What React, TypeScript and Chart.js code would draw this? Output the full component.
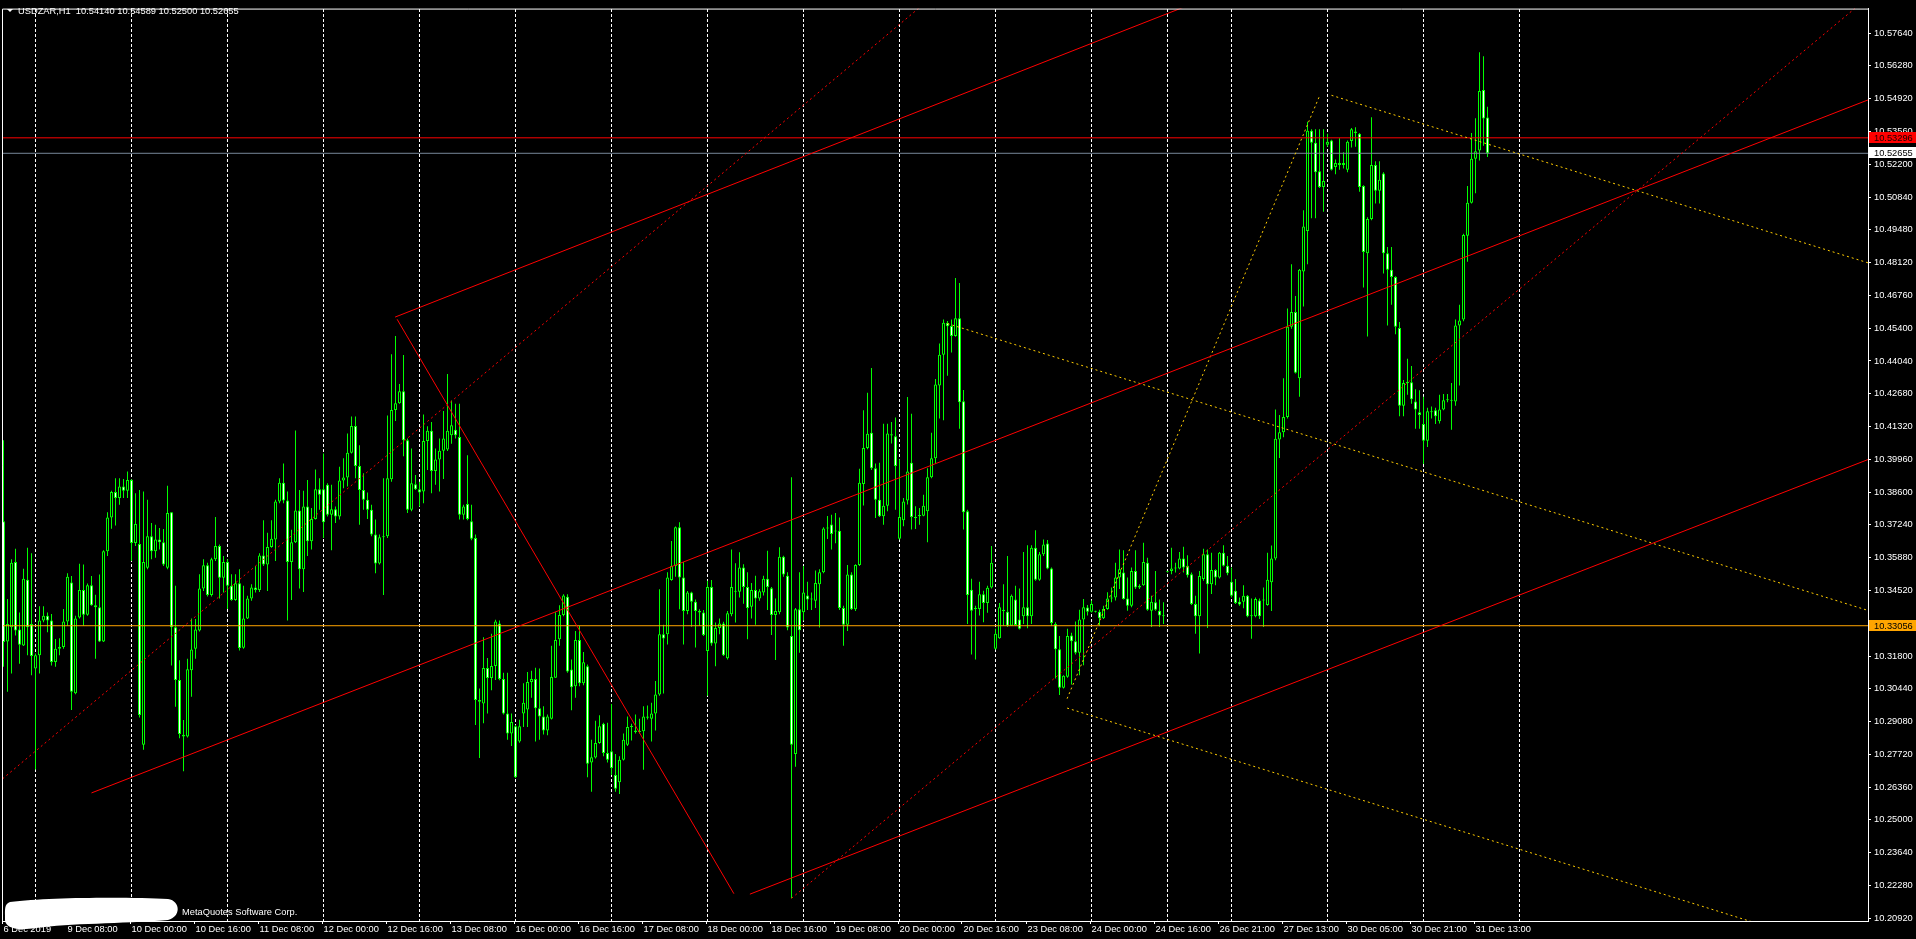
import React, { useEffect, useRef } from "react";
import { Chart, registerables } from "chart.js";

Chart.register(...registerables);

const W = 1916;
const H = 939;
const FONT = "'Liberation Sans', Arial, sans-serif";
const FS = 9.3;

const symbolTitle = "USDZAR,H1  10.54140 10.54589 10.52500 10.52655";
const brokerText = "MetaQuotes Software Corp.";

const opens = [
10.3739,10.3240,10.3299,10.3570,10.3290,10.3224,10.3496,10.3313,10.3128,10.3183,
10.3327,10.3347,10.3327,10.3155,10.3210,10.3217,10.3323,10.3485,10.3025,10.3340,
10.3454,10.3351,10.3474,10.3391,10.3382,10.3240,10.3615,10.3755,10.3860,10.3835,
10.3883,10.3866,10.3910,10.3649,10.3645,10.2812,10.3546,10.3677,10.3615,10.3663,
10.3652,10.3546,10.3776,10.3299,10.3080,10.2853,10.2846,10.3121,10.3210,10.3286,
10.3460,10.3557,10.3433,10.3581,10.3636,10.3505,10.3570,10.3471,10.3412,10.3482,
10.3214,10.3336,10.3419,10.3464,10.3454,10.3597,10.3560,10.3632,10.3663,10.3821,
10.3899,10.3825,10.3570,10.3652,10.3784,10.3540,10.3800,10.3656,10.3748,10.3872,
10.3872,10.3890,10.3766,10.3789,10.3759,10.3908,10.3921,10.4023,10.4134,10.3968,
10.3869,10.3828,10.3787,10.3684,10.3564,10.3673,10.3677,10.3913,10.4201,10.4229,
10.4278,10.4075,10.3787,10.3893,10.3872,10.3862,10.4072,10.4114,10.3947,10.3995,
10.4031,10.4037,10.4096,10.4119,10.4089,10.3766,10.3811,10.3739,10.3670,10.2997,
10.2983,10.3130,10.3089,10.3139,10.3315,10.3085,10.2941,10.2859,10.2889,10.2825,
10.2941,10.2958,10.3072,10.3085,10.2963,10.2929,10.2871,10.2920,10.3090,10.3249,
10.3350,10.3426,10.3124,10.3055,10.3246,10.3067,10.3137,10.2738,10.2759,10.2819,
10.2899,10.2778,10.2785,10.2686,10.2656,10.2750,10.2812,10.2885,10.2871,10.2865,
10.2868,10.2929,10.2920,10.2941,10.3020,10.3270,10.3270,10.3495,10.3553,10.3714,
10.3506,10.3367,10.3443,10.3405,10.3367,10.3360,10.3201,10.3466,10.3232,10.3296,
10.3315,10.3171,10.3353,10.3449,10.3447,10.3547,10.3466,10.3384,10.3454,10.3419,
10.3443,10.3501,10.3461,10.3350,10.3362,10.3592,10.3513,10.3263,10.2773,10.3374,
10.3362,10.3431,10.3414,10.3409,10.3478,10.3527,10.3709,10.3726,10.3696,10.3700,
10.3379,10.3310,10.3518,10.3374,10.3558,10.3894,10.4043,10.4106,10.3959,10.3828,
10.3760,10.3803,10.4100,10.4092,10.3666,10.3743,10.3825,10.3982,10.3757,10.3760,
10.3762,10.3780,10.3922,10.4000,10.4302,10.4430,10.4561,10.4549,10.4508,10.4581,
10.4237,10.3780,10.3455,10.3375,10.3375,10.3436,10.3400,10.3464,10.3210,10.3254,
10.3372,10.3364,10.3306,10.3414,10.3331,10.3345,10.3382,10.3345,10.3629,10.3496,
10.3602,10.3647,10.3543,10.3313,10.3208,10.3048,10.3094,10.3265,10.3241,10.3194,
10.3331,10.3381,10.3364,10.3367,10.3364,10.3337,10.3375,10.3419,10.3423,10.3506,
10.3526,10.3419,10.3389,10.3533,10.3464,10.3474,10.3567,10.3368,10.3403,10.3368,
10.3348,10.3530,10.3533,10.3543,10.3543,10.3584,10.3554,10.3519,10.3396,10.3345,
10.3499,10.3602,10.3478,10.3537,10.3506,10.3608,10.3554,10.3488,10.3451,10.3405,
10.3405,10.3430,10.3345,10.3345,10.3410,10.3414,10.3392,10.3486,10.3585,10.4078,
10.4108,10.4172,10.4546,10.4607,10.4332,10.4775,10.4943,10.5359,10.5309,10.5191,
10.5126,10.5301,10.5319,10.5209,10.5225,10.5217,10.5197,10.5316,10.5356,10.5347,
10.5130,10.4851,10.4993,10.5217,10.5110,10.5182,10.4851,10.4782,10.4752,10.4541,
10.4218,10.4316,10.4316,10.4236,10.4191,10.4142,10.4073,10.4191,10.4200,10.4154,
10.4203,10.4241,10.4241,10.4236,10.4551,10.4576,10.4923,10.5060,10.5243,10.5277,
10.5528,10.5414
];

const highs = [
10.4075,10.3416,10.3581,10.3625,10.3361,10.3542,10.3629,10.3606,10.3190,10.3386,
10.3386,10.3361,10.3354,10.3251,10.3254,10.3375,10.3523,10.3512,10.3347,10.3563,
10.3560,10.3481,10.3512,10.3434,10.3518,10.3619,10.3776,10.3866,10.3917,10.3917,
10.3914,10.3945,10.3913,10.3855,10.3869,10.3862,10.3828,10.3732,10.3725,10.3711,
10.3707,10.3886,10.3776,10.3471,10.3162,10.2915,10.3169,10.3336,10.3334,10.3519,
10.3581,10.3567,10.3588,10.3757,10.3643,10.3595,10.3581,10.3519,10.3519,10.3540,
10.3471,10.3430,10.3478,10.3553,10.3606,10.3743,10.3691,10.3743,10.3828,10.3917,
10.3979,10.3862,10.3704,10.4116,10.3869,10.3866,10.3910,10.3794,10.3954,10.3917,
10.4020,10.3897,10.3890,10.3800,10.3965,10.4000,10.4103,10.4174,10.4174,10.4054,
10.3938,10.3858,10.3807,10.3746,10.3684,10.3917,10.4178,10.4432,10.4508,10.4308,
10.4429,10.4082,10.4041,10.3931,10.3903,10.4182,10.4133,10.4151,10.4041,10.4082,
10.4196,10.4350,10.4240,10.4226,10.4226,10.3807,10.4013,10.3807,10.3684,10.3045,
10.3258,10.3172,10.3272,10.3330,10.3327,10.3111,10.3111,10.2941,10.2894,10.2916,
10.3067,10.3114,10.3119,10.3131,10.3128,10.2972,10.2937,10.3223,10.3362,10.3391,
10.3436,10.3436,10.3166,10.3284,10.3305,10.3197,10.3145,10.2833,10.2911,10.2934,
10.2903,10.2903,10.2981,10.2773,10.2764,10.2859,10.2929,10.2899,10.2937,10.2920,
10.2972,10.2975,10.2986,10.3076,10.3457,10.3310,10.3527,10.3657,10.3717,10.3735,
10.3570,10.3450,10.3447,10.3414,10.3374,10.3371,10.3492,10.3495,10.3319,10.3336,
10.3322,10.3367,10.3622,10.3565,10.3610,10.3561,10.3527,10.3483,10.3513,10.3457,
10.3513,10.3617,10.3466,10.3419,10.3631,10.3596,10.3527,10.3922,10.3379,10.3527,
10.3553,10.3488,10.3443,10.3535,10.3540,10.3714,10.3761,10.3766,10.3773,10.3755,
10.3388,10.3558,10.3527,10.3561,10.3957,10.4199,10.4272,10.4375,10.3979,10.3982,
10.4144,10.4144,10.4151,10.4169,10.3996,10.3835,10.4254,10.4185,10.3801,10.3794,
10.3849,10.3959,10.4106,10.4329,10.4476,10.4576,10.4570,10.4576,10.4748,10.4727,
10.4284,10.3787,10.3501,10.3389,10.3488,10.3451,10.3471,10.3636,10.3293,10.3400,
10.3478,10.3595,10.3435,10.3471,10.3460,10.3611,10.3639,10.3639,10.3702,10.3611,
10.3663,10.3661,10.3547,10.3320,10.3263,10.3100,10.3293,10.3276,10.3323,10.3372,
10.3416,10.3392,10.3410,10.3368,10.3372,10.3389,10.3444,10.3464,10.3567,10.3622,
10.3619,10.3506,10.3547,10.3619,10.3478,10.3650,10.3588,10.3430,10.3533,10.3414,
10.3403,10.3533,10.3629,10.3567,10.3611,10.3633,10.3598,10.3526,10.3430,10.3533,
10.3625,10.3622,10.3608,10.3540,10.3611,10.3639,10.3595,10.3547,10.3499,10.3423,
10.3474,10.3433,10.3419,10.3423,10.3419,10.3464,10.3608,10.3638,10.4203,10.4180,
10.4332,10.4622,10.4805,10.4673,10.4785,10.5029,10.5396,10.5365,10.5365,10.5365,
10.5365,10.5347,10.5322,10.5240,10.5328,10.5270,10.5319,10.5370,10.5374,10.5350,
10.5133,10.5000,10.5415,10.5232,10.5232,10.5187,10.4877,10.4877,10.4755,10.4566,
10.4325,10.4413,10.4383,10.4287,10.4282,10.4256,10.4210,10.4215,10.4210,10.4264,
10.4267,10.4267,10.4313,10.4576,10.4637,10.4932,10.5130,10.5350,10.5411,10.5685,
10.5668,10.54589
];

const lows = [
10.3135,10.3032,10.3107,10.3265,10.3148,10.3221,10.3183,10.3100,10.2709,10.3107,
10.3320,10.3279,10.3141,10.3135,10.3183,10.3210,10.3306,10.2956,10.3021,10.3336,
10.3306,10.3347,10.3389,10.3169,10.3238,10.3238,10.3595,10.3708,10.3721,10.3807,
10.3835,10.3835,10.3574,10.3636,10.2925,10.2791,10.3540,10.3581,10.3588,10.3622,
10.3553,10.3540,10.3141,10.2970,10.2839,10.2702,10.2842,10.3011,10.3169,10.3282,
10.3450,10.3427,10.3427,10.3574,10.3419,10.3443,10.3375,10.3409,10.3409,10.3203,
10.3210,10.3334,10.3409,10.3443,10.3446,10.3553,10.3450,10.3629,10.3574,10.3814,
10.3814,10.3327,10.3412,10.3649,10.3460,10.3446,10.3595,10.3622,10.3746,10.3787,
10.3670,10.3759,10.3619,10.3732,10.3746,10.3876,10.3883,10.4020,10.3917,10.3725,
10.3787,10.3748,10.3677,10.3523,10.3560,10.3433,10.3670,10.3903,10.4155,10.4226,
10.4009,10.3773,10.3780,10.3869,10.3800,10.3814,10.3952,10.3855,10.3890,10.3862,
10.3914,10.4030,10.4061,10.4082,10.3746,10.3746,10.3743,10.3660,10.2894,10.2757,
10.2901,10.2942,10.3038,10.3080,10.3079,10.2937,10.2833,10.2807,10.2674,10.2820,
10.2885,10.2885,10.3007,10.2825,10.2833,10.2854,10.2851,10.2917,10.3090,10.3223,
10.3345,10.3111,10.2955,10.3007,10.3055,10.3059,10.2677,10.2617,10.2755,10.2816,
10.2764,10.2738,10.2686,10.2617,10.2608,10.2747,10.2807,10.2830,10.2859,10.2859,
10.2708,10.2917,10.2825,10.2871,10.3015,10.3024,10.3228,10.3492,10.3509,10.3374,
10.3228,10.3353,10.3301,10.3215,10.3305,10.3263,10.3015,10.3223,10.3137,10.3270,
10.3180,10.3166,10.3345,10.3319,10.3423,10.3397,10.3249,10.3336,10.3310,10.3409,
10.3431,10.3371,10.3267,10.3163,10.3353,10.3509,10.3287,10.2175,10.2721,10.3194,
10.3327,10.3371,10.3371,10.3379,10.3298,10.3523,10.3665,10.3622,10.3648,10.3371,
10.3223,10.3284,10.3371,10.3367,10.3553,10.3804,10.4038,10.3952,10.3753,10.3757,
10.3725,10.3780,10.4062,10.3787,10.3663,10.3718,10.3808,10.3705,10.3707,10.3725,
10.3760,10.3652,10.3917,10.3979,10.4165,10.4158,10.4343,10.4439,10.4504,10.4123,
10.3705,10.3313,10.3186,10.3166,10.3348,10.3320,10.3359,10.3460,10.3207,10.3252,
10.3306,10.3300,10.3304,10.3306,10.3290,10.3313,10.3295,10.3313,10.3492,10.3492,
10.3595,10.3540,10.3306,10.3087,10.3018,10.3045,10.3090,10.3062,10.3186,10.3100,
10.3142,10.3348,10.3361,10.3361,10.3306,10.3334,10.3372,10.3403,10.3410,10.3458,
10.3414,10.3368,10.3382,10.3458,10.3458,10.3471,10.3368,10.3300,10.3368,10.3300,
10.3313,10.3526,10.3519,10.3526,10.3540,10.3526,10.3506,10.3392,10.3272,10.3190,
10.3492,10.3296,10.3437,10.3474,10.3502,10.3551,10.3515,10.3423,10.3396,10.3389,
10.3378,10.3341,10.3252,10.3341,10.3334,10.3300,10.3389,10.3367,10.3577,10.4001,
10.4088,10.4165,10.4538,10.4352,10.4256,10.4630,10.4805,10.4996,10.4996,10.5121,
10.5023,10.5293,10.5194,10.5179,10.5197,10.5202,10.5187,10.5289,10.5293,10.5106,
10.4709,10.4505,10.4988,10.5057,10.5057,10.4767,10.4551,10.4637,10.4515,10.4175,
10.4175,10.4264,10.4226,10.4123,10.4123,10.3977,10.4047,10.4165,10.4142,10.4145,
10.4200,10.4233,10.4119,10.4218,10.4302,10.4569,10.4816,10.5057,10.5100,10.5236,
10.5297,10.5250
];

const closes = [
10.3238,10.3313,10.3567,10.3286,10.3227,10.3501,10.3299,10.3180,10.3183,10.3327,
10.3347,10.3327,10.3155,10.3210,10.3217,10.3323,10.3509,10.3032,10.3336,10.3454,
10.3351,10.3474,10.3391,10.3382,10.3240,10.3615,10.3755,10.3860,10.3835,10.3883,
10.3866,10.3910,10.3649,10.3728,10.2935,10.3570,10.3677,10.3615,10.3663,10.3652,
10.3560,10.3773,10.3299,10.3080,10.2856,10.2846,10.3125,10.3207,10.3290,10.3460,
10.3557,10.3433,10.3581,10.3636,10.3505,10.3570,10.3471,10.3412,10.3482,10.3213,
10.3336,10.3419,10.3464,10.3454,10.3597,10.3560,10.3632,10.3666,10.3821,10.3899,
10.3825,10.3570,10.3652,10.3784,10.3540,10.3800,10.3656,10.3748,10.3872,10.3849,
10.3735,10.3766,10.3789,10.3759,10.3908,10.3921,10.4023,10.4134,10.3968,10.3869,
10.3828,10.3787,10.3684,10.3564,10.3673,10.3677,10.3917,10.4201,10.4229,10.4278,
10.4075,10.3787,10.3897,10.3872,10.3858,10.4072,10.4114,10.3947,10.3995,10.4031,
10.4082,10.4114,10.4137,10.4096,10.3766,10.3800,10.3748,10.3666,10.2997,10.2990,
10.3130,10.3089,10.3139,10.3323,10.3085,10.2941,10.2859,10.2906,10.2677,10.2889,
10.2986,10.3072,10.3085,10.2963,10.2929,10.2871,10.2929,10.3093,10.3246,10.3350,
10.3431,10.3116,10.3050,10.3246,10.3067,10.3154,10.2733,10.2760,10.2819,10.2889,
10.2778,10.2750,10.2715,10.2629,10.2750,10.2833,10.2885,10.2889,10.2865,10.2868,
10.2929,10.2924,10.2941,10.3020,10.3270,10.3253,10.3506,10.3553,10.3714,10.3506,
10.3367,10.3443,10.3405,10.3367,10.3360,10.3267,10.3466,10.3232,10.3296,10.3315,
10.3183,10.3357,10.3466,10.3447,10.3547,10.3466,10.3379,10.3454,10.3419,10.3449,
10.3501,10.3466,10.3350,10.3367,10.3592,10.3518,10.3298,10.2812,10.3374,10.3287,
10.3443,10.3414,10.3419,10.3483,10.3527,10.3709,10.3709,10.3686,10.3700,10.3379,
10.3310,10.3518,10.3374,10.3558,10.3899,10.4043,10.4102,10.3959,10.3828,10.3760,
10.3803,10.4103,10.4095,10.3968,10.3757,10.3821,10.3945,10.3757,10.3753,10.3765,
10.3803,10.3922,10.4000,10.4306,10.4430,10.4563,10.4548,10.4508,10.4581,10.4233,
10.3776,10.3433,10.3368,10.3378,10.3436,10.3400,10.3463,10.3567,10.3272,10.3382,
10.3367,10.3306,10.3430,10.3309,10.3293,10.3382,10.3345,10.3629,10.3496,10.3602,
10.3643,10.3543,10.3317,10.3208,10.3048,10.3098,10.3263,10.3241,10.3194,10.3331,
10.3382,10.3364,10.3396,10.3364,10.3337,10.3375,10.3419,10.3423,10.3506,10.3540,
10.3416,10.3389,10.3533,10.3464,10.3471,10.3570,10.3372,10.3405,10.3372,10.3348,
10.3345,10.3533,10.3543,10.3545,10.3584,10.3547,10.3515,10.3396,10.3345,10.3512,
10.3602,10.3478,10.3537,10.3506,10.3608,10.3554,10.3523,10.3430,10.3400,10.3394,
10.3430,10.3345,10.3347,10.3416,10.3345,10.3410,10.3496,10.3585,10.4081,10.4108,
10.4172,10.4546,10.4607,10.4355,10.4782,10.4962,10.5359,10.5309,10.5187,10.5126,
10.5151,10.5313,10.5197,10.5225,10.5217,10.5225,10.5313,10.5365,10.5350,10.5126,
10.4856,10.4993,10.5217,10.5110,10.5156,10.4851,10.4782,10.4752,10.4546,10.4218,
10.4313,10.4313,10.4245,10.4203,10.4180,10.4073,10.4195,10.4194,10.4175,10.4203,
10.4241,10.4243,10.4239,10.4551,10.4572,10.4927,10.5060,10.5243,10.5274,10.5524,
10.5410,10.52655
];

// time axis labels (every 16 bars) and their bar index
const timeLabels = [
  "6 Dec 2019", "9 Dec 08:00", "10 Dec 00:00", "10 Dec 16:00", "11 Dec 08:00",
  "12 Dec 00:00", "12 Dec 16:00", "13 Dec 08:00", "16 Dec 00:00", "16 Dec 16:00",
  "17 Dec 08:00", "18 Dec 00:00", "18 Dec 16:00", "19 Dec 08:00", "20 Dec 00:00",
  "20 Dec 16:00", "23 Dec 08:00", "24 Dec 00:00", "24 Dec 16:00", "26 Dec 21:00",
  "27 Dec 13:00", "30 Dec 05:00", "30 Dec 21:00", "31 Dec 13:00"
];
const labelBars = [0,16,32,48,64,80,96,112,128,144,160,176,192,208,224,240,256,272,288,304,320,336,352,368];
// bars that start a new day (vertical dashed grid)
const dayStartBars = [8,32,56,80,104,128,152,176,200,224,248,272,291,307,331,355,379];

const priceTicks = [
  10.2092,10.2228,10.2364,10.2500,10.2636,10.2772,10.2908,10.3044,10.3180,10.3316,
  10.3452,10.3588,10.3724,10.3860,10.3996,10.4132,10.4268,10.4404,10.4540,10.4676,
  10.4812,10.4948,10.5084,10.5220,10.5356,10.5492,10.5628,10.5764
];

const redLevel = 10.53296;
const orangeLevel = 10.33056;
const bidLevel = 10.52655;

// trend objects: [barIndex, price] pairs
const redSolidLines = [
  [[97.9, 10.4586], [300, 10.5904]],
  [[22.0, 10.2612], [470, 10.5512]],
  [[186.6, 10.2192], [470, 10.4020]],
  [[98.4, 10.4577], [182.6, 10.2194]],
];
const redDottedLines = [
  [[-5, 10.2604], [230, 10.5884]],
  [[197, 10.2175], [470, 10.5966]],
];
const yellowDottedLines = [
  [[265.9, 10.3003], [329, 10.5503]],
  [[332, 10.5506], [470, 10.4791]],
  [[236, 10.4559], [470, 10.3349]],
  [[265.9, 10.2964], [470, 10.1907]],
];

const viewFirst = -0.375;
const viewLast = 466.125;
const priceMin = 10.20807;
const priceMax = 10.58658;

function lineDs(pts: number[][], color: string, dash: number[]) {
  return {
    type: "line",
    data: pts.map(([x, y]) => ({ x, y })),
    borderColor: color,
    borderWidth: 1,
    borderDash: dash,
    pointRadius: 0,
    pointHoverRadius: 0,
    fill: false,
    tension: 0,
    order: 0,
    xAxisID: "x",
    yAxisID: "y",
  };
}

const overlay = {
  id: "mtOverlay",
  beforeDraw(chart: any) {
    const c = chart.ctx;
    c.save();
    c.fillStyle = "#000000";
    c.fillRect(0, 0, chart.width, chart.height);
    c.restore();
  },
  afterDraw(chart: any) {
    const c = chart.ctx;
    const a = chart.chartArea;
    const ys = chart.scales.y;
    c.save();
    // frame top / left
    c.strokeStyle = "#FFFFFF";
    c.lineWidth = 1;
    c.beginPath();
    c.moveTo(a.left + 0.5, a.bottom);
    c.lineTo(a.left + 0.5, a.top + 0.5);
    c.lineTo(a.right, a.top + 0.5);
    c.stroke();

    c.font = `${FS}px ${FONT}`;
    c.textAlign = "left";
    const tag = (v: number, bg: string, fg: string) => {
      const py = Math.round(ys.getPixelForValue(v));
      c.fillStyle = bg;
      c.fillRect(a.right + 1, py - 6, chart.width - a.right - 1, 11);
      c.fillStyle = fg;
      c.textBaseline = "middle";
      c.fillText(v.toFixed(5), a.right + 6, py);
    };
    tag(redLevel, "#FF0000", "#1a0000");
    tag(bidLevel, "#FFFFFF", "#000000");
    tag(orangeLevel, "#FFA500", "#000000");

    // title
    c.fillStyle = "#FFFFFF";
    c.beginPath();
    c.moveTo(7, 9);
    c.lineTo(13, 9);
    c.lineTo(10, 12);
    c.closePath();
    c.fill();
    c.textBaseline = "alphabetic";
    c.fillText(symbolTitle, 18, 14);

    // broker text
    c.fillText(brokerText, 182, 915);

    // white scribble covering copyright
    c.fillStyle = "#FFFFFF";
    c.beginPath();
    c.moveTo(10, 902);
    c.bezierCurveTo(50, 897, 130, 897, 168, 899);
    c.bezierCurveTo(181, 901, 181, 917, 168, 920);
    c.bezierCurveTo(120, 924, 70, 923, 36, 928);
    c.bezierCurveTo(16, 931, 4, 928, 5, 918);
    c.bezierCurveTo(5, 910, 4, 904, 10, 902);
    c.fill();
    c.restore();
  },
};

export default function App() {
  const ref = useRef<HTMLCanvasElement>(null);

  useEffect(() => {
    const canvas = ref.current;
    if (!canvas) return;
    const n = closes.length;
    const wickData: any[] = [];
    const bodyData: any[] = [];
    const bodyFill: string[] = [];
    for (let i = 0; i < n; i++) {
      const hi = Math.max(highs[i], opens[i], closes[i]);
      const lo = Math.min(lows[i], opens[i], closes[i]);
      wickData.push({ x: i, y: [lo, hi] });
      bodyData.push({ x: i, y: [opens[i], closes[i]] });
      bodyFill.push(closes[i] > opens[i] ? "#000000" : "#FFFFFF");
    }

    const datasets: any[] = [
      ...redSolidLines.map((p) => lineDs(p, "#FF0000", [])),
      ...redDottedLines.map((p) => lineDs(p, "#FF0000", [2, 3])),
      ...yellowDottedLines.map((p) => lineDs(p, "#FFCC00", [2, 3])),
      lineDs([[viewFirst - 2, redLevel], [viewLast + 2, redLevel]], "#FF0000", []),
      lineDs([[viewFirst - 2, bidLevel], [viewLast + 2, bidLevel]], "#778899", []),
      lineDs([[viewFirst - 2, orangeLevel], [viewLast + 2, orangeLevel]], "#FFA500", []),
      {
        type: "bar",
        data: bodyData,
        backgroundColor: bodyFill,
        borderColor: "#00FF00",
        borderWidth: 1,
        borderSkipped: false,
        barThickness: 3,
        minBarLength: 1,
        grouped: false,
        inflateAmount: 0,
        order: 1,
        xAxisID: "x",
        yAxisID: "y",
      },
      {
        type: "bar",
        data: wickData,
        backgroundColor: "#00FF00",
        borderWidth: 0,
        barThickness: 1,
        grouped: false,
        inflateAmount: 0,
        order: 2,
        xAxisID: "x",
        yAxisID: "y",
      },
    ];

    const chart = new Chart(canvas, {
      type: "bar",
      data: { datasets },
      options: {
        responsive: false,
        animation: false,
        devicePixelRatio: 1,
        events: [],
        layout: { padding: { left: 2, top: 2, right: 0, bottom: 0 } },
        plugins: {
          legend: { display: false },
          tooltip: { enabled: false },
          title: { display: false },
        },
        scales: {
          x: {
            type: "linear",
            position: "bottom",
            min: viewFirst,
            max: viewLast,
            offset: false,
            bounds: "data",
            grid: { display: true, offset: false, drawOnChartArea: false, drawTicks: true, tickLength: 3, color: "#FFFFFF", lineWidth: 1 },
            border: { display: true, color: "#FFFFFF", width: 1 },
            ticks: {
              autoSkip: false,
              maxRotation: 0,
              minRotation: 0,
              align: "start",
              labelOffset: 1.5,
              padding: 0,
              color: "#FFFFFF",
              font: { family: FONT, size: FS },
              callback: (_v: any, i: number) => timeLabels[i] ?? "",
            },
            afterBuildTicks: (s: any) => {
              s.ticks = labelBars.map((b) => ({ value: b + viewFirst }));
            },
            afterFit: (s: any) => {
              s.height = 18;
            },
          },
          xg: {
            type: "linear",
            position: "top",
            min: viewFirst,
            max: viewLast,
            offset: false,
            bounds: "data",
            grid: { display: true, offset: false, drawOnChartArea: true, drawTicks: false, color: "#FFFFFF", lineWidth: 1 },
            border: { display: false, dash: [3, 2] },
            ticks: { display: false },
            afterBuildTicks: (s: any) => {
              s.ticks = dayStartBars.map((d) => ({ value: d }));
            },
            afterFit: (s: any) => {
              s.height = 0;
            },
          },
          y: {
            type: "linear",
            position: "right",
            min: priceMin,
            max: priceMax,
            bounds: "data",
            grid: { display: true, offset: false, drawOnChartArea: false, drawTicks: true, tickLength: 3, color: "#FFFFFF" },
            border: { display: true, color: "#FFFFFF", width: 1 },
            ticks: {
              autoSkip: false,
              color: "#FFFFFF",
              padding: 3,
              font: { family: FONT, size: FS },
              callback: (v: any) => Number(v).toFixed(5),
            },
            afterBuildTicks: (s: any) => {
              s.ticks = priceTicks.map((v) => ({ value: v }));
            },
            afterFit: (s: any) => {
              s.width = 48;
            },
          },
        },
      } as any,
      plugins: [overlay],
    } as any);

    return () => chart.destroy();
  }, []);

  return (
    <div style={{ position: "fixed", left: 0, top: 0, width: W, height: H, background: "#000" }}>
      <canvas ref={ref} width={W} height={H} style={{ display: "block", width: W, height: H }} />
    </div>
  );
}
